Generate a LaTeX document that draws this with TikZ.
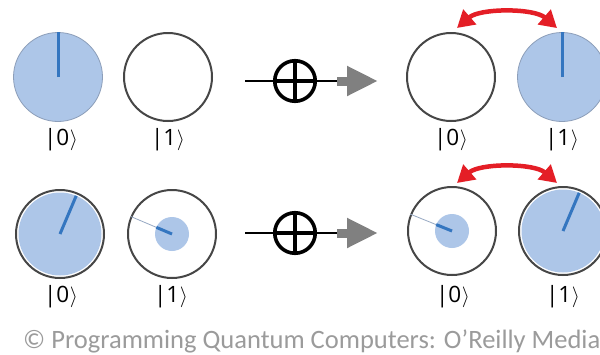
\documentclass[tikz,border=0pt]{standalone}
\usepackage{fontspec}
\usepackage{graphicx}
\setmainfont{Open Sans}
\newfontfamily\capfont{Carlito}
\usetikzlibrary{arrows.meta}
\definecolor{qblue}{RGB}{173,198,232}
\definecolor{lineblue}{RGB}{52,118,192}
\definecolor{edgeblue}{RGB}{140,158,185}
\definecolor{ringgray}{RGB}{70,70,70}
\definecolor{thinblue}{RGB}{150,168,195}
\definecolor{arrowgray}{RGB}{128,128,128}
\definecolor{swapred}{RGB}{228,30,38}
\definecolor{capgray}{RGB}{155,155,155}
\newcommand{\myket}[1]{|#1\hspace{0.5pt}$\rangle$}
\tikzset{
  qubit/.style={circle, draw=ringgray, line width=2pt, minimum size=88pt, inner sep=0pt},
  fullq/.style={circle, fill=qblue, draw=edgeblue, line width=0.8pt, minimum size=89pt, inner sep=0pt},
  disk/.style={circle, fill=qblue, inner sep=0pt, outer sep=0pt},
  phase/.style={draw=lineblue, line width=3pt},
  thinline/.style={draw=thinblue, line width=0.8pt},
  ket/.style={font=\fontsize{22.5}{26}\selectfont, inner sep=0pt},
  oplusnode/.style={circle, draw, line width=3.6pt, minimum size=40.5pt, inner sep=0pt, outer sep=0pt},
  wire/.style={line width=2pt},
  plusbar/.style={line width=3.6pt},
  grayarrow/.style={draw=arrowgray, line width=9pt, -{Triangle[length=31pt,width=28pt]}},
  swaparrow/.style={draw=swapred, line width=4.5pt, {Triangle[length=17pt,width=19pt]}-{Triangle[length=17pt,width=19pt]}}
}
\begin{document}
\begin{tikzpicture}[x=1pt,y=-1pt]
\useasboundingbox (0,0) rectangle (600,354);
\fill[white] (0,0) rectangle (600,354);

% ---------- Row 1, left ----------
\node[fullq] (a0) at (58,77) {};
\draw[phase] (a0.center) -- (a0.90);
\node[qubit] (a1) at (168,77) {};
\node[ket] (ka0) at (61,140) {\myket{0}};
\node[ket] (ka1) at (168,140) {\myket{1}};

% ---------- Row 1, gate ----------
\coordinate (w1s) at (245,81);
\coordinate (w1e) at (337,81);
\coordinate (w1t) at (378,81);
\draw[wire] (w1s) -- (w1e);
\node[oplusnode] (g1) at (295,81) {};
\draw[plusbar] (g1.north) -- (g1.south);
\draw[plusbar] (g1.west) -- (g1.east);
\draw[grayarrow] (w1e) -- (w1t);

% ---------- Row 1, right ----------
\node[qubit] (b0) at (451,77) {};
\node[fullq] (b1) at (562,77) {};
\draw[phase] (b1.center) -- (b1.90);
\draw[swaparrow] ([shift={(6,-4)}]b0.north) .. controls (480,8) and (534,8) .. ([shift={(-5,-4)}]b1.north);
\node[ket] (kb0) at (451,140) {\myket{0}};
\node[ket] (kb1) at (562,140) {\myket{1}};

% ---------- Row 2, left ----------
\node[qubit] (c0) at (60,234) {};
\node[disk, minimum size=83pt] (c0d) at (60,234) {};
\draw[phase] (c0d.center) -- (c0d.67);
\node[qubit] (c1) at (172,234) {};
\node[disk, minimum size=34pt] (c1d) at (172,234) {};
\draw[thinline] (c1d.center) -- (c1.157);
\draw[phase] (c1d.center) -- (c1d.157);
\node[ket] (kc0) at (61,297) {\myket{0}};
\node[ket] (kc1) at (171,297) {\myket{1}};

% ---------- Row 2, gate ----------
\coordinate (w2s) at (245,233);
\coordinate (w2e) at (337,233);
\coordinate (w2t) at (378,233);
\draw[wire] (w2s) -- (w2e);
\node[oplusnode] (g2) at (295,233) {};
\draw[plusbar] (g2.north) -- (g2.south);
\draw[plusbar] (g2.west) -- (g2.east);
\draw[grayarrow] (w2e) -- (w2t);

% ---------- Row 2, right ----------
\node[qubit] (d0) at (452,231) {};
\node[disk, minimum size=34pt] (d0d) at (452,231) {};
\draw[thinline] (d0d.center) -- (d0.158);
\draw[phase] (d0d.center) -- (d0d.158);
\node[qubit] (d1) at (563,231) {};
\node[disk, minimum size=83pt] (d1d) at (563,231) {};
\draw[phase] (d1d.center) -- (d1d.67);
\draw[swaparrow] ([shift={(5,-3)}]d0.north) .. controls (480,163) and (534,163) .. ([shift={(-6,-3)}]d1.north);
\node[ket] (kd0) at (453,297) {\myket{0}};
\node[ket] (kd1) at (563,297) {\myket{1}};

% ---------- Caption ----------
\node[anchor=base west, text=capgray, inner sep=0pt] (cap) at (23,348)
  {\resizebox{577pt}{!}{\capfont © Programming Quantum Computers: O’Reilly Media}};
\end{tikzpicture}
\end{document}
